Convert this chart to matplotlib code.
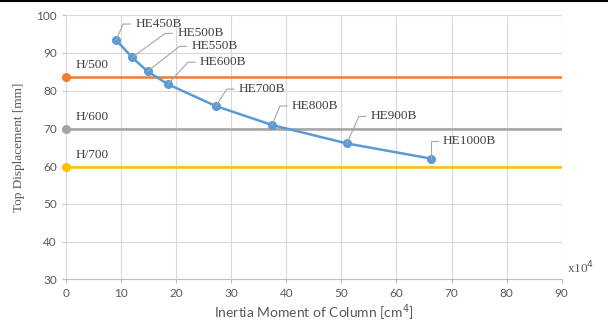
import matplotlib
matplotlib.use("Agg")
import matplotlib.pyplot as plt
from matplotlib.lines import Line2D

OUTPUT_FIG = "out.png"

# Column sections: inertia moment (x10^4 cm4) vs top displacement (mm)
SECTIONS = ["HE450B", "HE500B", "HE550B", "HE600B", "HE700B", "HE800B", "HE900B", "HE1000B"]
INERTIA = [9.1, 12.0, 14.8, 18.5, 27.2, 37.4, 51.0, 66.2]
DISPLACEMENT = [93.4, 88.8, 85.1, 81.7, 75.9, 70.9, 66.0, 62.0]

# Drift limits
LIMIT_NAMES = ["H/500", "H/600", "H/700"]
LIMIT_VALUES = [83.6, 69.7, 59.7]
LIMIT_COLORS = ["#ED7D31", "#A5A5A5", "#FFC000"]

X_RANGE = [0, 90]

# label offsets from each point, in pixels (dx, dy)
LABEL_OFFSETS = [(19, 16), (45, 24), (44, 25), (32, 22), (23, 17), (20, 19), (24, 27), (12, 18)]

SERIF = "Liberation Serif"
SANS = "Lato"
GRAY_TXT = "#595959"


def main():
    fig = plt.figure(figsize=(6.08, 3.22), dpi=100)
    ax = fig.add_axes([0.1086, 0.1326, 0.8152, 0.8204])

    ax.set_xlim(0, 90)
    ax.set_ylim(30, 100)
    ax.set_xticks(range(0, 91, 10))
    ax.set_yticks(range(30, 101, 10))
    ax.grid(color="#D9D9D9", linewidth=0.8)
    ax.set_axisbelow(True)
    for side in ["top", "right"]:
        ax.spines[side].set_visible(False)
    ax.spines["left"].set_color("#D9D9D9")
    ax.spines["bottom"].set_color("#BFBFBF")
    ax.tick_params(length=3, color="#BFBFBF", labelcolor=GRAY_TXT, labelsize=8.5)
    for lab in ax.get_xticklabels() + ax.get_yticklabels():
        lab.set_family(SANS)

    # limit lines
    for name, val, col in zip(LIMIT_NAMES, LIMIT_VALUES, LIMIT_COLORS):
        ax.plot(X_RANGE, [val, val], color=col, linewidth=1.8, solid_capstyle="butt")
        ax.plot([X_RANGE[0]], [val], "o", color=col, markersize=5.5, clip_on=False, zorder=4)
        ax.annotate(name, (X_RANGE[0], val), xytext=(10, 12), textcoords="offset pixels",
                    ha="left", va="center", fontsize=9.5, family=SERIF, color="#404040")

    ax.plot(INERTIA, DISPLACEMENT, "-o", color="#5B9BD5", linewidth=1.8,
            markersize=5.5, zorder=5)

    # callout labels with elbow leaders
    fig.canvas.draw()
    for name, x, y, (dx, dy) in zip(SECTIONS, INERTIA, DISPLACEMENT, LABEL_OFFSETS):
        px, py = ax.transData.transform((x, y))
        tx, ty = px + dx, py + dy
        xs = [px, tx - 12, tx - 5]
        ys = [py, ty, ty]
        fig.add_artist(Line2D(xs, ys, transform=None, color="#A6A6A6", linewidth=0.8))
        ax.annotate(name, (x, y), xytext=(dx, dy), textcoords="offset pixels",
                    ha="left", va="center", fontsize=9.5, family=SERIF, color="#404040")

    ax.set_ylabel("Top Displacement [mm]", family=SERIF, fontsize=9.5, color=GRAY_TXT, labelpad=8)
    ax.set_xlabel("Inertia Moment of Column [cm$^4$]", family=SANS, fontsize=10,
                  color=GRAY_TXT, labelpad=2)
    ax.text(1.01, 0.01, "x10$^4$", transform=ax.transAxes, ha="left", va="bottom",
            family=SERIF, fontsize=9.5, color=GRAY_TXT)

    # thin black rule along the top edge
    fig.add_artist(Line2D([0, 1], [0.997, 0.997], transform=fig.transFigure,
                          color="black", linewidth=1.5))

    fig.savefig(OUTPUT_FIG, dpi=100)


if __name__ == "__main__":
    main()
